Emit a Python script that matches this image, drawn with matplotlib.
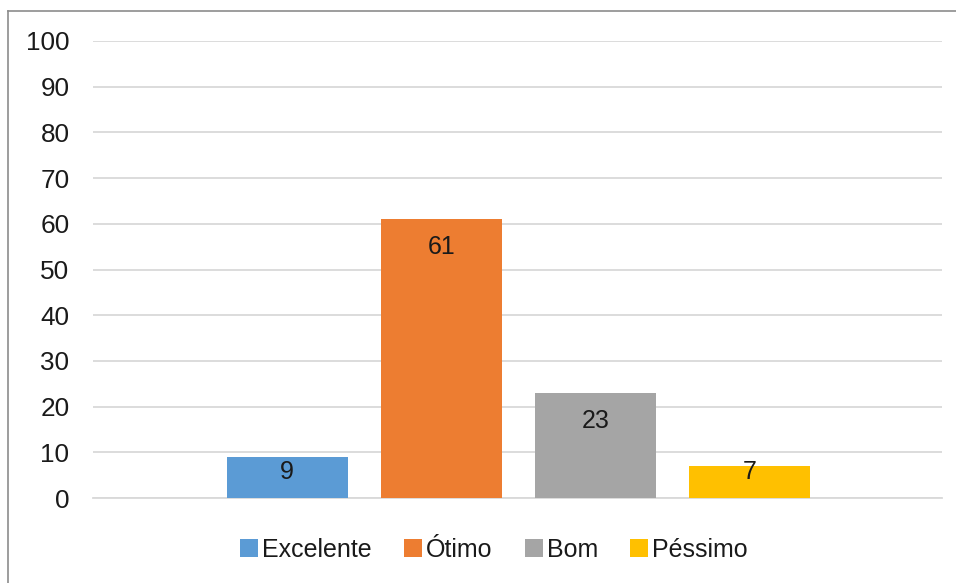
import matplotlib.pyplot as plt
from matplotlib.lines import Line2D
from matplotlib.patches import Patch

plt.rcParams["font.family"] = ["Liberation Sans", "DejaVu Sans"]

categories = ["Excelente", "Ótimo", "Bom", "Péssimo"]
values = [9, 61, 23, 7]
colors = ["#5b9bd5", "#ed7d31", "#a5a5a5", "#ffc000"]
yticks = list(range(0, 101, 10))

W, H = 956, 583
fig = plt.figure(figsize=(W / 100, H / 100), dpi=100)
ax = fig.add_axes([93 / W, 1 - 498 / H, (942 - 93) / W, (498 - 41) / H])

xs = range(len(values))
ax.bar(xs, values, width=0.786, color=colors, zorder=3)

# value labels sit just inside the top of each bar, or low down for short bars
for x, v in zip(xs, values):
    ax.text(x, max(v - 6.1, 5.7), str(v), ha="center", va="center",
            fontsize=18, color="#1a1a1a", zorder=4)

ax.set_xlim(-1.26, 4.25)
ax.set_ylim(0, 100)
ax.set_yticks(yticks)
ax.set_xticks([])
ax.grid(axis="y", color="#d9d9d9", lw=1.3, zorder=0)
for side in ["top", "right", "left"]:
    ax.spines[side].set_visible(False)
ax.spines["bottom"].set_color("#d9d9d9")
ax.spines["bottom"].set_linewidth(1.3)
ax.tick_params(axis="y", length=0, pad=17, labelsize=18.8, labelcolor="#1a1a1a")

handles = [Patch(facecolor=c, edgecolor="none") for c in colors]
fig.legend(handles, categories, loc="center", bbox_to_anchor=(494 / W, 1 - 550 / H),
           ncol=4, frameon=False, fontsize=18, handlelength=0.72, handleheight=0.72,
           handletextpad=0.15, columnspacing=1.3, labelcolor="#1a1a1a")

# chart frame (left and top edges)
fig.add_artist(Line2D([8 / W, 8 / W], [0, 1 - 11 / H], color="#8c8c8c", lw=1.2))
fig.add_artist(Line2D([8 / W, 1], [1 - 11 / H, 1 - 11 / H], color="#8c8c8c", lw=1.2))

fig.savefig("out.png", dpi=100)
